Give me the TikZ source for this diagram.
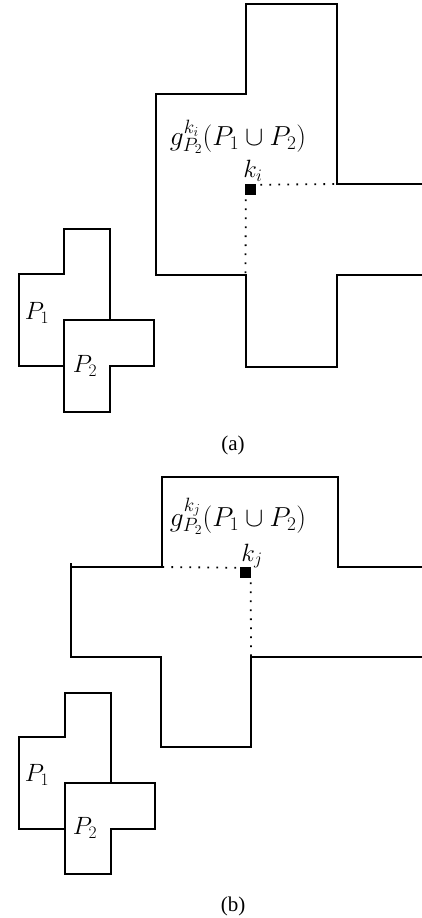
\RequirePackage{fix-cm}
\documentclass[tikz,border=0pt]{standalone}
\usepackage{fontspec}
\newfontfamily\capfont{Liberation Serif}
\begin{document}
\begin{tikzpicture}[x=1pt,y=-1pt,
  outline/.style={line width=1.8pt, line join=miter},
  dotline/.style={line width=1.8pt, dash pattern=on 1.8pt off 7.2pt},
  keysq/.style={fill=black, draw=none, minimum size=11pt, inner sep=0pt},
  glab/.style={inner sep=0pt, font=\fontsize{27.5}{32}\selectfont},
  klab/.style={inner sep=0pt, font=\fontsize{25}{30}\selectfont},
  plab/.style={inner sep=0pt, font=\fontsize{25}{30}\selectfont},
  caplab/.style={inner sep=0pt, font=\capfont\fontsize{21}{25}\selectfont}]
\useasboundingbox (0,0) rectangle (422,918);

% ---------------- (a) ----------------
\draw[outline] (422,184) -- (337,184) -- (337,4) -- (246,4) -- (246,94)
  -- (156,94) -- (156,275) -- (246,275) -- (246,367) -- (337,367)
  -- (337,275) -- (422,275);
\node[keysq, anchor=north west] (sqa) at (245,184) {};
\coordinate (da1) at (337,184);
\coordinate (da2) at (245.5,275);
\draw[dotline] (sqa.north east) ++(4,0.75) -- (da1);
\draw[dotline] (sqa.south west) ++(0.75,4) -- (da2);
\node[glab] (ga) at (238,137) {$g^{k_i}_{P_2}(P_1\cup P_2)$};
\node[klab] (ka) at (253,171) {$k_i$};

\draw[outline] (64,320) -- (154,320) -- (154,366) -- (110,366) -- (110,412)
  -- (64,412) -- cycle;
\draw[outline] (110,320) -- (110,229) -- (64,229) -- (64,274) -- (19,274)
  -- (19,366) -- (64,366);
\node[plab] (p1a) at (37,313) {$P_1$};
\node[plab] (p2a) at (85,366) {$P_2$};
\node[caplab] (capa) at (233,445) {(a)};

% ---------------- (b) ----------------
\draw[outline] (422,567) -- (338,567) -- (338,477) -- (162,477) -- (162,567)
  -- (71,567) -- (71,657) -- (161,657) -- (161,747) -- (251,747)
  -- (251,657) -- (422,657);
\draw[outline] (71,567) -- (71,563);
\node[keysq, anchor=north east] (sqb) at (251.5,567) {};
\coordinate (db1) at (162,567);
\coordinate (db2) at (251,657);
\draw[dotline] (sqb.north west) ++(-4,0.75) -- (db1);
\draw[dotline] (sqb.south east) ++(-0.75,4) -- (db2);
\node[glab] (gb) at (238,516) {$g^{k_j}_{P_2}(P_1\cup P_2)$};
\node[klab] (kb) at (252,556) {$k_j$};

\begin{scope}[shift={(1,463)}]
\draw[outline] (64,320) -- (154,320) -- (154,366) -- (110,366) -- (110,411)
  -- (64,411) -- cycle;
\draw[outline] (110,320) -- (110,230) -- (64,230) -- (64,274) -- (18,274)
  -- (18,366) -- (64,366);
\node[plab] (p1b) at (36,312) {$P_1$};
\node[plab] (p2b) at (84,365) {$P_2$};
\end{scope}
\node[caplab] (capb) at (233,906) {(b)};
\end{tikzpicture}
\end{document}
